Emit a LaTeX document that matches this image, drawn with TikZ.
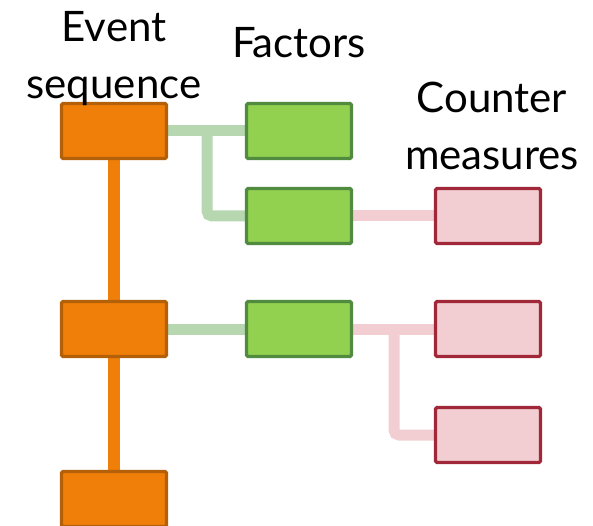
\documentclass[tikz,border=0pt]{standalone}
\usepackage{fontspec}
\setmainfont{Lato}
\usetikzlibrary{backgrounds}

\definecolor{evfill}{HTML}{F07F09}
\definecolor{evline}{HTML}{B46008}
\definecolor{fcfill}{HTML}{92D050}
\definecolor{fcline}{HTML}{508B40}
\definecolor{fclink}{HTML}{B6D7B0}
\definecolor{cmfill}{HTML}{F2CED3}
\definecolor{cmline}{HTML}{A02839}
\definecolor{cmlink}{HTML}{F2CED2}

\tikzset{
  box/.style={draw, line width=3.2pt, rounded corners=1.5pt, inner sep=0pt,
    minimum width=105pt, minimum height=55pt},
  evbox/.style={box, fill=evfill, draw=evline},
  fcbox/.style={box, fill=fcfill, draw=fcline},
  cmbox/.style={box, fill=cmfill, draw=cmline},
  evlink/.style={draw=evfill, line width=12pt},
  fclink/.style={draw=fclink, line width=11pt, rounded corners=5pt},
  cmlink/.style={draw=cmlink, line width=11pt, rounded corners=5pt},
  % base anchor of a two-line heading sits on its last line
  heading/.style={font=\fontsize{42}{57}\selectfont, align=center, inner sep=0pt, anchor=base}
}

\begin{document}
\begin{tikzpicture}[x=1pt, y=-1pt]
  \useasboundingbox (0,0) rectangle (593,526);

  % event sequence column
  \node[evbox] (e1) at (114,131) {};
  \node[evbox] (e2) at (114,329) {};
  \node[evbox] (e3) at (114,499) {};

  % contributing factors
  \node[fcbox] (f1) at (299,131) {};
  \node[fcbox] (f2) at (299,216) {};
  \node[fcbox] (f3) at (299,329) {};

  % counter measures
  \node[cmbox] (c1) at (488,216) {};
  \node[cmbox] (c2) at (488,329) {};
  \node[cmbox] (c3) at (488,435) {};

  % branch points of the tree links
  \coordinate (fj) at (207,131);
  \coordinate (cj) at (394,329);

  \begin{pgfonlayer}{background}
    \draw[evlink] (e1.south) -- (e2.north);
    \draw[evlink] (e2.south) -- (e3.north);
    \draw[fclink] (e1.east) -- (f1.west);
    \draw[fclink] (fj) |- (f2.west);
    \draw[fclink] (e2.east) -- (f3.west);
    \draw[cmlink] (f2.east) -- (c1.west);
    \draw[cmlink] (f3.east) -- (c2.west);
    \draw[cmlink] (cj) |- (c3.west);
  \end{pgfonlayer}

  % column headings
  \node[heading] (hev) at (114,99) {Event\\sequence};
  \node[heading] (hfc) at (299,58) {Factors};
  \node[heading] (hcm) at (492,170) {Counter\\measures};
\end{tikzpicture}
\end{document}
